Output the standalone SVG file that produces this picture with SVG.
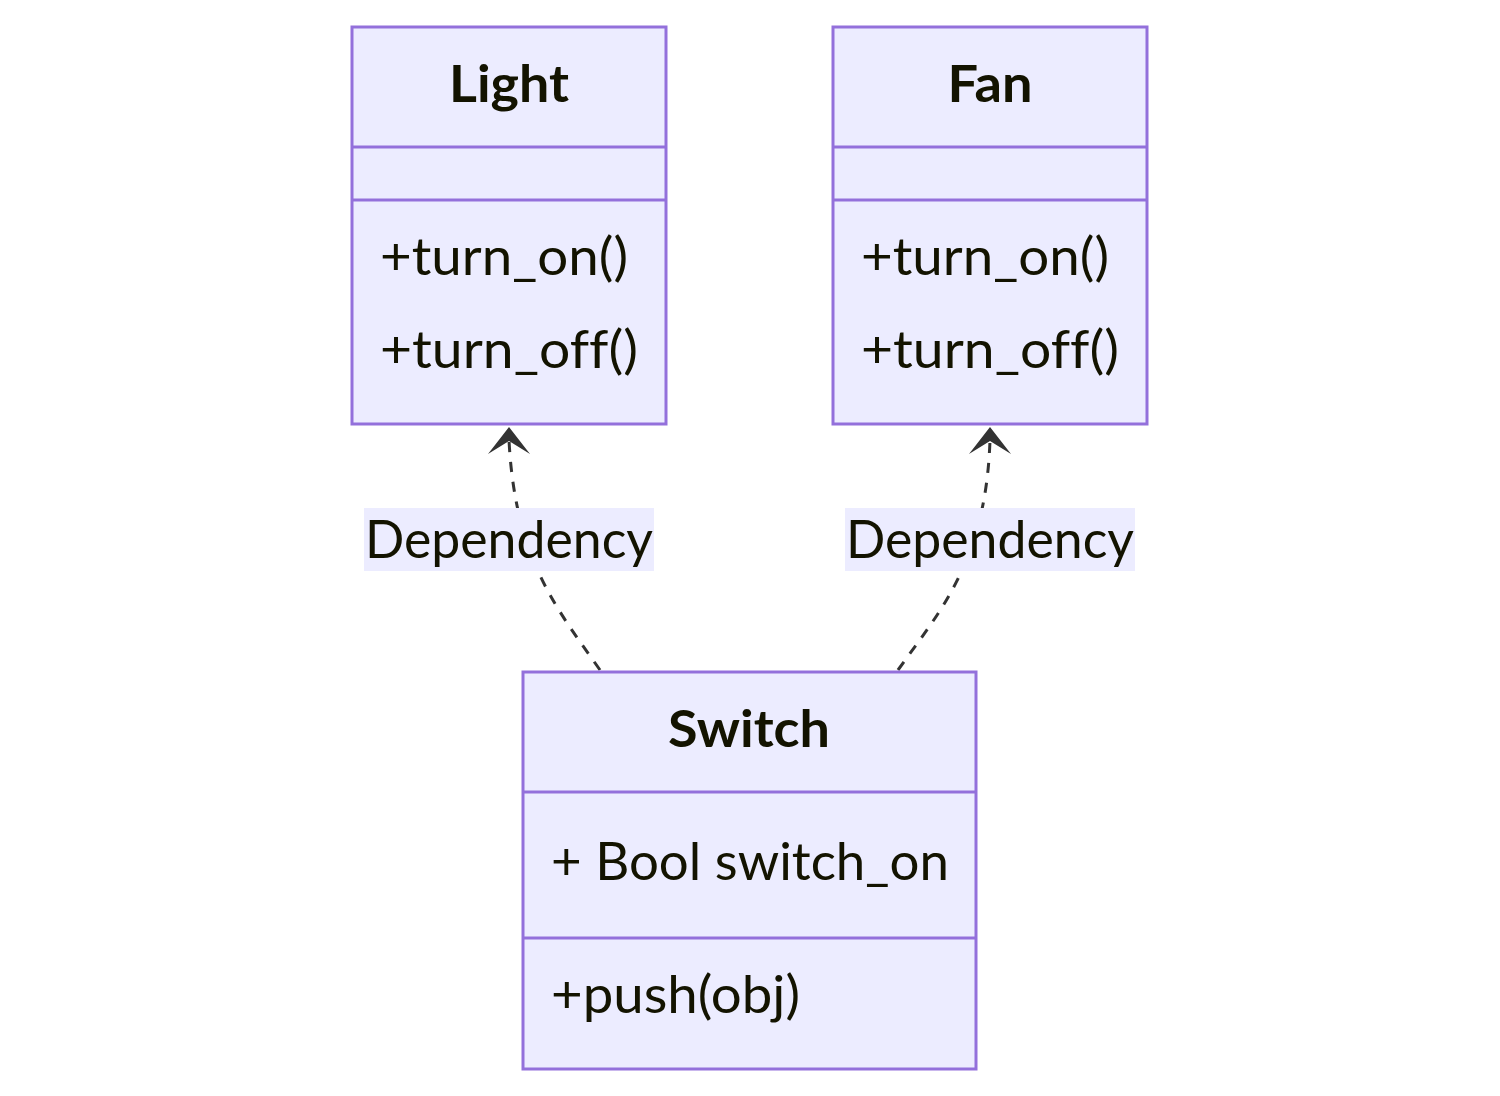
<svg xmlns="http://www.w3.org/2000/svg" width="1500" height="1096" viewBox="0 0 1500 1096">
<style>
.box{fill:#ECECFF;stroke:#9370DB;stroke-width:3}
.div{stroke:#9370DB;stroke-width:3}
.t{font-family:Lato,"Open Sans",sans-serif;font-size:52px;fill:#131300;font-variant-ligatures:none;font-feature-settings:"liga" 0}
.b{font-weight:bold;text-anchor:middle}
.edge{fill:none;stroke:#333;stroke-width:3;stroke-dasharray:10,10}
.arr{fill:#333}
.lbg{fill:#ECECFF}
</style>
<rect width="1500" height="1096" fill="#fff"/>
<g id="edges">
<path class="edge" d="M600,670 C558,610 515,560 509,440"/>
<polygon class="arr" points="509,427 530,454 509,441 488,454"/>
<path class="edge" d="M898,670 C941,610 986,560 990,440"/>
<polygon class="arr" points="990,427 1011,454 990,441 969,454"/>
<g id="label-light">
<rect class="lbg" x="364" y="508" width="290" height="63"/>
<text class="t" x="365" y="558" textLength="288" lengthAdjust="spacingAndGlyphs">Dependency</text>
</g>
<g id="label-fan">
<rect class="lbg" x="845" y="508" width="290" height="63"/>
<text class="t" x="846" y="558" textLength="288" lengthAdjust="spacingAndGlyphs">Dependency</text>
</g>
</g>
<g id="Light">
<rect class="box" x="352" y="27" width="314" height="397"/>
<line class="div" x1="352" y1="147" x2="666" y2="147"/>
<line class="div" x1="352" y1="200" x2="666" y2="200"/>
<text class="t b" x="509" y="102" textLength="120" lengthAdjust="spacingAndGlyphs">Light</text>
<text class="t" x="380" y="275" textLength="248" lengthAdjust="spacingAndGlyphs">+turn_on()</text>
<text class="t" x="380" y="368" textLength="258" lengthAdjust="spacingAndGlyphs">+turn_off()</text>
</g>
<g id="Fan">
<rect class="box" x="833" y="27" width="314" height="397"/>
<line class="div" x1="833" y1="147" x2="1147" y2="147"/>
<line class="div" x1="833" y1="200" x2="1147" y2="200"/>
<text class="t b" x="990" y="102" textLength="85" lengthAdjust="spacingAndGlyphs">Fan</text>
<text class="t" x="861" y="275" textLength="248" lengthAdjust="spacingAndGlyphs">+turn_on()</text>
<text class="t" x="861" y="368" textLength="258" lengthAdjust="spacingAndGlyphs">+turn_off()</text>
</g>
<g id="Switch">
<rect class="box" x="523" y="672" width="453" height="397"/>
<line class="div" x1="523" y1="792" x2="976" y2="792"/>
<line class="div" x1="523" y1="938" x2="976" y2="938"/>
<text class="t b" x="749" y="747" textLength="162" lengthAdjust="spacingAndGlyphs">Switch</text>
<text class="t" x="551" y="880" textLength="398" lengthAdjust="spacingAndGlyphs">+ Bool switch_on</text>
<text class="t" x="551" y="1013" textLength="249" lengthAdjust="spacingAndGlyphs">+push(obj)</text>
</g>
</svg>
